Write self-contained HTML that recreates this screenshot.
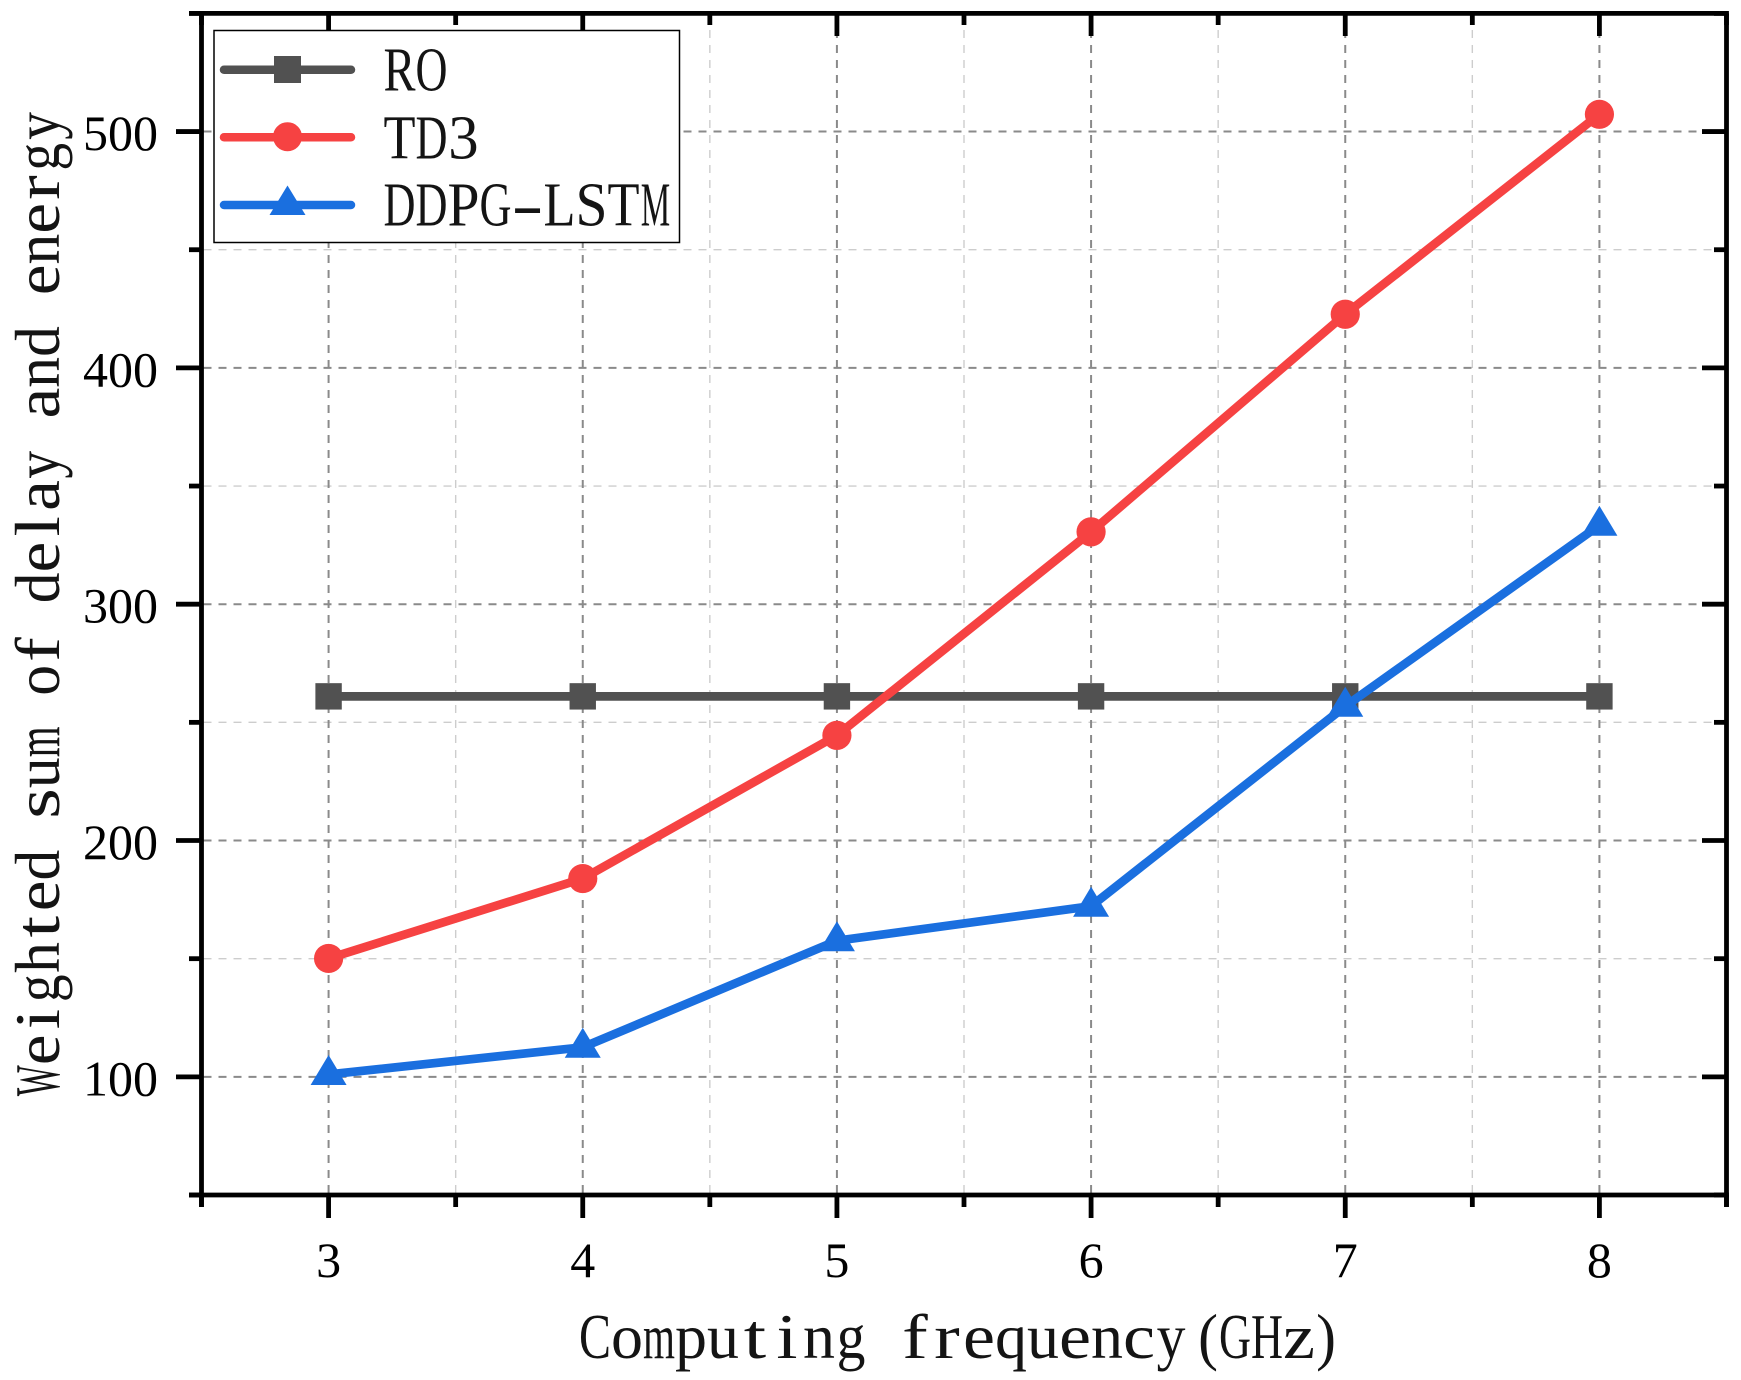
<!DOCTYPE html>
<html lang="en">
<head>
<meta charset="utf-8">
<title>Weighted sum of delay and energy vs computing frequency</title>
<style>
  html, body { margin: 0; padding: 0; background: #fff; }
  svg { display: block; }
  text { font-family: "Liberation Serif", "Noto Serif CJK SC", serif; fill: #000; white-space: pre; }
  #x-title, #y-title, text.lg { fill: #141414; }
</style>
</head>
<body>
<svg id="chart" xmlns="http://www.w3.org/2000/svg" width="1741" height="1380" viewBox="0 0 1741 1380">
  <rect x="0" y="0" width="1741" height="1380" fill="#fff"/>
  <g id="grid"></g>
  <g id="series"></g>
  <g id="axes"></g>
  <g id="tick-labels"></g>
  <text id="x-title" font-size="64">Computing frequency(GHz)</text>
  <text id="y-title" font-size="63">Weighted sum of delay and energy</text>
  <g id="legend">
    <rect x="214" y="30.5" width="465.5" height="212" fill="#fff" stroke="#000" stroke-width="1.5"/>
    <g>
      <line x1="224" x2="351" y1="69.7" y2="69.7" stroke="#515151" stroke-width="8.5" stroke-linecap="round"/>
      <rect x="274" y="56" width="27" height="27" fill="#515151"/>
      <text class="lg" font-size="62" data-y="90.7">RO</text>
    </g>
    <g>
      <line x1="224" x2="351" y1="137.3" y2="137.3" stroke="#F64242" stroke-width="8.5" stroke-linecap="round"/>
      <circle cx="287.5" cy="136.7" r="14.5" fill="#F64242"/>
      <text class="lg" font-size="62" data-y="158.3">TD3</text>
    </g>
    <g>
      <line x1="224" x2="351" y1="205" y2="205" stroke="#1A6FDF" stroke-width="8.5" stroke-linecap="round"/>
      <polygon points="287.5,185.5 305.5,215 269.5,215" fill="#1A6FDF"/>
      <text class="lg" font-size="62" data-y="225.7">DDPG-LSTM</text>
    </g>
  </g>
</svg>
<script>
// ---- chart data ----
const frequencies = [3, 4, 5, 6, 7, 8];
const roValues = [261, 261, 261, 261, 261, 261];
const td3Values = [150.1, 183.9, 244.5, 330.6, 422.7, 507.3];
const ddpgLstmValues = [101, 112.5, 157.6, 172.2, 256.8, 333.4];
const xTickLabels = ["3", "4", "5", "6", "7", "8"];
const xMinorTicks = [2.5, 3.5, 4.5, 5.5, 6.5, 7.5, 8.5];
const yTickValues = [100, 200, 300, 400, 500];
const yTickLabels = ["100", "200", "300", "400", "500"];
const yMinorTicks = [50, 150, 250, 350, 450, 550];

// ---- axis functions ----
const plotLeft = 201.5, plotRight = 1726.5, plotTop = 13.4, plotBottom = 1195;
const xDomainMin = 2.5, xDomainMax = 8.5, yDomainMin = 50, yDomainMax = 550;
function xScale(v) { return plotLeft + (v - xDomainMin) / (xDomainMax - xDomainMin) * (plotRight - plotLeft); }
function yScale(v) { return plotBottom - (v - yDomainMin) / (yDomainMax - yDomainMin) * (plotBottom - plotTop); }

const NS = "http://www.w3.org/2000/svg";
function mk(tag, parent, attrs) {
  const el = document.createElementNS(NS, tag);
  for (const k in attrs) el.setAttribute(k, attrs[k]);
  parent.appendChild(el);
  return el;
}
const gridG = document.getElementById("grid");
const seriesG = document.getElementById("series");
const axesG = document.getElementById("axes");
const labelsG = document.getElementById("tick-labels");

// ---- grid ----
const majorGrid = { stroke: "#8a8a8a", "stroke-width": 2, "stroke-dasharray": "8 7" };
const minorGrid = { stroke: "#cdcdcd", "stroke-width": 1.4, "stroke-dasharray": "8 7" };
yMinorTicks.slice(1, -1).forEach(v => {
  const l = mk("line", gridG, Object.assign({ x1: plotLeft + 2, x2: plotRight - 2, y1: yScale(v), y2: yScale(v) }, minorGrid));
  
  
});
xMinorTicks.slice(1, -1).forEach(v => {
  const l = mk("line", gridG, Object.assign({ x1: xScale(v), x2: xScale(v), y1: plotBottom - 2, y2: plotTop + 2 }, minorGrid));
  
  
});
yTickValues.forEach(v => {
  const l = mk("line", gridG, Object.assign({ x1: plotLeft + 2, x2: plotRight - 2, y1: yScale(v), y2: yScale(v) }, majorGrid));
  
  
});
frequencies.forEach(v => {
  const l = mk("line", gridG, Object.assign({ x1: xScale(v), x2: xScale(v), y1: plotBottom - 2, y2: plotTop + 2 }, majorGrid));
  
  
});

// ---- series ----
function seriesPoints(values) {
  return values.map((v, i) => xScale(frequencies[i]) + "," + yScale(v)).join(" ");
}
const roLine = mk("polyline", seriesG, { points: seriesPoints(roValues), fill: "none", stroke: "#515151", "stroke-width": 8.7 });


roValues.forEach((v, i) => {
  const m = mk("rect", seriesG, { x: xScale(frequencies[i]) - 13.2, y: yScale(v) - 13.2, width: 26.4, height: 26.4, fill: "#515151" });
  
  
});
const td3Line = mk("polyline", seriesG, { points: seriesPoints(td3Values), fill: "none", stroke: "#F64242", "stroke-width": 8.7 });


td3Values.forEach((v, i) => {
  const m = mk("circle", seriesG, { cx: xScale(frequencies[i]), cy: yScale(v), r: 14.6, fill: "#F64242" });
  
  
});
const ddpgLine = mk("polyline", seriesG, { points: seriesPoints(ddpgLstmValues), fill: "none", stroke: "#1A6FDF", "stroke-width": 8.7 });


ddpgLstmValues.forEach((v, i) => {
  const cx = xScale(frequencies[i]), cy = yScale(v);
  const m = mk("polygon", seriesG, { points: cx + "," + (cy - 19.5) + " " + (cx + 18) + "," + (cy + 10.5) + " " + (cx - 18) + "," + (cy + 10.5), fill: "#1A6FDF" });
  
  
});

// ---- axes ----
const axisW = 4.8;
function axisLine(x1, y1, x2, y2, name) {
  const l = mk("line", axesG, { x1: x1, y1: y1, x2: x2, y2: y2, stroke: "#000", "stroke-width": axisW });
  
  
}
axisLine(189, plotBottom, plotRight + 2.4, plotBottom, "x-axis-bottom");
axisLine(189, plotTop, plotRight + 2.4, plotTop, "x-axis-top");
axisLine(plotLeft, plotTop, plotLeft, 1207, "y-axis-left");
axisLine(plotRight, plotTop, plotRight, 1207, "y-axis-right");
frequencies.forEach(v => {
  axisLine(xScale(v), plotBottom, xScale(v), 1218, "x-major-tick");
  axisLine(xScale(v), plotTop, xScale(v), 36, "x-major-tick-top");
});
xMinorTicks.forEach(v => {
  axisLine(xScale(v), plotBottom, xScale(v), 1207, "x-minor-tick");
  axisLine(xScale(v), plotTop, xScale(v), 25, "x-minor-tick-top");
});
yTickValues.forEach(v => {
  axisLine(176, yScale(v), plotLeft, yScale(v), "y-major-tick");
  axisLine(plotRight, yScale(v), 1702, yScale(v), "y-major-tick-right");
});
yMinorTicks.forEach(v => {
  axisLine(189, yScale(v), plotLeft, yScale(v), "y-minor-tick");
  axisLine(plotRight, yScale(v), 1714, yScale(v), "y-minor-tick-right");
});

// ---- half-width, SimSun-like text: every glyph is fitted to its own cell ----
function cellFraction(ch) {
  if ("il".indexOf(ch) >= 0) return 0.66;
  if ("tj".indexOf(ch) >= 0) return 0.7;
  if ("fr".indexOf(ch) >= 0) return 0.8;
  if ("()".indexOf(ch) >= 0) return 0.62;
  if ("yg".indexOf(ch) >= 0) return 0.9;
  if ("M".indexOf(ch) >= 0) return 0.92;
  if ("0123456789".indexOf(ch) >= 0) return 0.95;
  return 1;
}
function cellShift(ch) {
  if (ch === "(") return 5;
  if (ch === ")") return -5;
  return 0;
}
function cellLayout(el, step) {
  const chars = Array.from(el.textContent);
  el.textContent = "";
  chars.forEach((ch, i) => {
    const w = step * cellFraction(ch);
    const t = mk("tspan", el, { x: (i * step - w / 2 + cellShift(ch)).toFixed(2), y: 0 });
    if (ch !== " ") {
      t.setAttribute("textLength", w.toFixed(2));
      t.setAttribute("lengthAdjust", "spacingAndGlyphs");
    }
    t.textContent = ch;
  });
}

// ---- tick labels ----
xTickLabels.forEach((t, i) => {
  const el = mk("text", labelsG, { x: xScale(frequencies[i]), y: 1277, "font-size": 50, "text-anchor": "middle" });
  el.textContent = t;
  
  
});
yTickLabels.forEach((t, i) => {
  const el = mk("text", labelsG, { x: 158, y: yScale(yTickValues[i]) + 18.5, "font-size": 50, "text-anchor": "end" });
  el.textContent = t;
  
  
});

const xTitle = document.getElementById("x-title");
cellLayout(xTitle, 32);
xTitle.setAttribute("transform", "translate(595,1358)");
const yTitle = document.getElementById("y-title");
cellLayout(yTitle, 30.8);
yTitle.setAttribute("transform", "translate(59,1080.7) rotate(-90)");
document.querySelectorAll("text.lg").forEach(el => {
  cellLayout(el, 32);
  el.setAttribute("transform", "translate(399.5," + el.getAttribute("data-y") + ")");
});
</script>
</body>
</html>
